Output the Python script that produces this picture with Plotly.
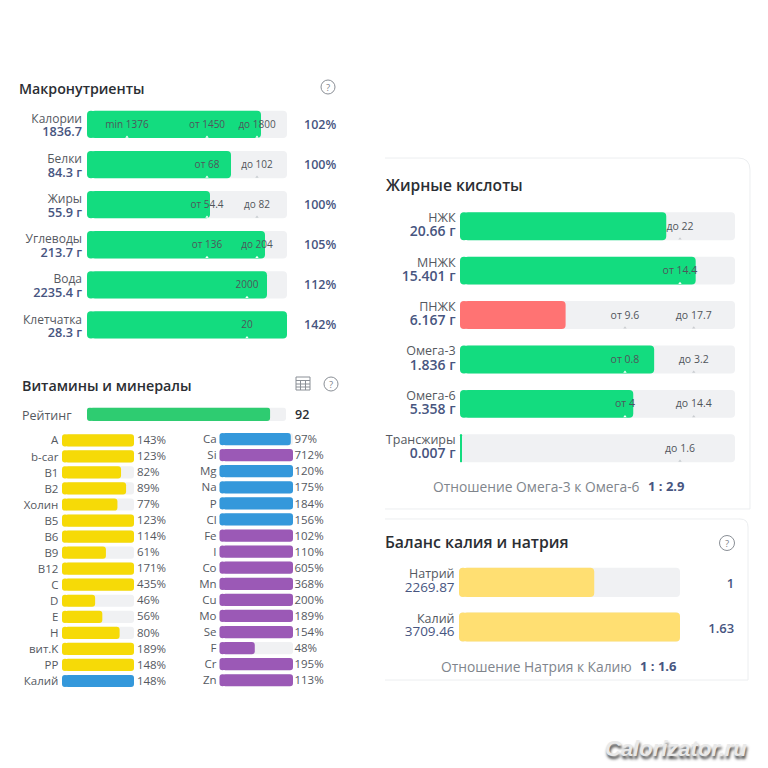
import plotly.graph_objects as go

FONT = "Open Sans"
GREEN = "#13dc7f"; YELLOW = "#f6da07"; BLUE = "#3498db"; PURPLE = "#9b59b6"
RED = "#ff7373"; SOFT = "#ffdf72"; TRACK = "#f0f1f3"
GREY = "#55595f"; NAVY = "#47557f"; DARK = "#2b2e33"

# ---------- data ----------
macro_names = ["Калории", "Белки", "Жиры", "Углеводы", "Вода", "Клетчатка"]
macro_values = ["1836.7", "84.3 г", "55.9 г", "213.7 г", "2235.4 г", "28.3 г"]
macro_fill = [87, 72, 61.5, 89, 90, 100]
macro_pct = ["102%", "100%", "100%", "105%", "112%", "142%"]
macro_marks = [[("min 1376", 20), ("от 1450", 60), ("до 1800", 85)],
               [("от 68", 60), ("до 102", 85)],
               [("от 54.4", 60), ("до 82", 85)],
               [("от 136", 60), ("до 204", 85)],
               [("2000", 80)],
               [("20", 80)]]

rating_label = "Рейтинг"
rating_value = 92

vit_names = ["A", "b-car", "B1", "B2", "Холин", "B5", "B6", "B9", "B12", "C", "D", "E", "H", "вит.K", "PP", "Калий"]
vit_pct = [143, 123, 82, 89, 77, 123, 114, 61, 171, 435, 46, 56, 80, 189, 148, 148]
vit_group = ["v"] * 15 + ["m"]

min_names = ["Ca", "Si", "Mg", "Na", "P", "Cl", "Fe", "I", "Co", "Mn", "Cu", "Mo", "Se", "F", "Cr", "Zn"]
min_pct = [97, 712, 120, 175, 184, 156, 102, 110, 605, 368, 200, 189, 154, 48, 195, 113]
min_group = ["b", "p", "b", "b", "b", "b", "p", "p", "p", "p", "p", "p", "p", "p", "p", "p"]

fat_names = ["НЖК", "МНЖК", "ПНЖК", "Омега-3", "Омега-6", "Трансжиры"]
fat_values = ["20.66 г", "15.401 г", "6.167 г", "1.836 г", "5.358 г", "0.007 г"]
fat_fill = [75, 85.7, 38.4, 70.6, 63, 0.4]
fat_ok = [True, True, False, True, True, True]
fat_marks = [[("до 22", 80)], [("от 14.4", 80)], [("от 9.6", 60), ("до 17.7", 85)],
             [("от 0.8", 60), ("до 3.2", 85)], [("от 4", 60), ("до 14.4", 85)], [("до 1.6", 80)]]

bal_names = ["Натрий", "Калий"]
bal_values = [2269.87, 3709.46]
bal_ratio = ["1", "1.63"]

# ---------- helpers ----------
def X(p): return p / 768
def Y(p): return 1 - p / 768

fig = go.Figure()
layout_axes = {}
annots = []
shapes = []
axis_n = [0]
scale = {}
PAD = 60

def new_axes(x0, x1, y0, y1, rows, xmax=100):
    axis_n[0] += 1
    n = axis_n[0]
    s = "" if n == 1 else str(n)
    pxu = (x1 - x0) / xmax
    dl = x0 - max(x0 - PAD, 0)
    dr = min(x1 + PAD, 768) - x1
    common = dict(showgrid=False, zeroline=False, showticklabels=False, ticks="", showline=False, fixedrange=True)
    layout_axes["xaxis" + s] = dict(domain=[X(x0 - dl), X(x1 + dr)], range=[-dl / pxu, xmax + dr / pxu],
                                    anchor="y" + s, **common)
    layout_axes["yaxis" + s] = dict(domain=[Y(y1), Y(y0)], range=[rows - 0.5, -0.5], anchor="x" + s, **common)
    scale["x" + s] = pxu
    return "x" + s, "y" + s

def rounded(xa, ya, vals, colors, width, radius):
    # each bar is a left cap (drawn backwards, so its far end is rounded) plus the body
    n = len(vals)
    cap = 2 * radius / scale[xa]
    caps = [min(cap, v) for v in vals]
    common = dict(y=list(range(n)), orientation="h", width=width, xaxis=xa, yaxis=ya, hoverinfo="skip",
                  marker=dict(color=colors, cornerradius=radius, line_width=0))
    fig.add_trace(go.Bar(x=[-c for c in caps], base=caps, **common))
    fig.add_trace(go.Bar(x=[v - c / 2 for v, c in zip(vals, caps)], base=[c / 2 for c in caps], **common))

def bars(xa, ya, vals, colors, width, radius, xmax=100):
    rounded(xa, ya, [xmax] * len(vals), TRACK, width, radius)
    rounded(xa, ya, vals, colors, width, radius)

def texts(xa, ya, xs, ys, labels, size, color, pos="middle left", weight=400):
    fig.add_trace(go.Scatter(x=xs, y=ys, text=labels, mode="text", textposition=pos, xaxis=xa, yaxis=ya,
                             cliponaxis=False, hoverinfo="skip",
                             textfont=dict(family=FONT, size=size, color=color, weight=weight)))

def marks(xa, ya, table, fills, width, size=10):
    xs, ys, labels, nx, ny, nc = [], [], [], [], [], []
    for r, row in enumerate(table):
        for lab, pos in row:
            xs.append(pos); ys.append(r + 0.02); labels.append(lab)
            nx.append(pos); ny.append(r + width / 2 - 0.03)
            nc.append("#ffffff" if pos < fills[r] else "#c9ccd0")
    fig.add_trace(go.Scatter(x=nx, y=ny, mode="markers", xaxis=xa, yaxis=ya, cliponaxis=False, hoverinfo="skip",
                             marker=dict(symbol="triangle-up", size=3, color=nc, line_width=0)))
    texts(xa, ya, xs, ys, labels, size, "#50555b", pos="middle center")

def note(x, y, text, size, color, anchor="left", weight=400, **kw):
    shift = -2 if anchor == "left" else 0
    annots.append(dict(x=X(x + shift), y=Y(y), xref="paper", yref="paper", text=text, showarrow=False, xanchor=anchor,
                       yanchor="middle", font=dict(family=FONT, size=size, color=color, weight=weight), **kw))

def help_icon(x, y, r):
    shapes.append(dict(type="circle", xref="paper", yref="paper", x0=X(x - r), x1=X(x + r), y0=Y(y + r), y1=Y(y - r),
                       line=dict(color="#8a8f96", width=1)))
    note(x, y, "?", 9.5, "#7d8289", anchor="center")

def ink(path, color, width=1):
    shapes.append(dict(type="path", xref="paper", yref="paper", path=path, line=dict(color=color, width=width)))

def P(*pts):
    out = []
    for cmd, x, y in pts:
        out.append(f"{cmd} {X(x):.5f} {Y(y):.5f}")
    return " ".join(out)

# ---------- macronutrients ----------
xa, ya = new_axes(87, 287, 104.4, 345, 6)
bars(xa, ya, macro_fill, GREEN, 0.68, 4)
marks(xa, ya, macro_marks, macro_fill, 0.68)
rows = list(range(6))
texts(xa, ya, [-2.5] * 6, [r - 0.11 for r in rows], macro_names, 12, GREY)
texts(xa, ya, [-2.5] * 6, [r + 0.22 for r in rows], macro_values, 12.7, NAVY, weight=600)
texts(xa, ya, [108.5] * 6, [r + 0.03 for r in rows], macro_pct, 12.5, NAVY, pos="middle right", weight=600)
note(19, 89, "Макронутриенты", 14.2, DARK, weight=600)
help_icon(328, 87, 7)

# ---------- rating ----------
xa, ya = new_axes(87, 286, 407.5, 421, 1)
bars(xa, ya, [rating_value], "#2ecc71", 1, 3)
note(22, 415, rating_label, 12.5, GREY, weight=500)
note(295, 414, str(rating_value), 12.5, DARK, weight=600)

# ---------- vitamins ----------
color_map = {"v": YELLOW, "m": BLUE, "b": BLUE, "p": PURPLE}
rows = list(range(16))
xa, ya = new_axes(62, 134, 432.3, 689, 16)
bars(xa, ya, [min(v, 100) for v in vit_pct], [color_map[g] for g in vit_group], 0.76, 3)
texts(xa, ya, [-5] * 16, [r + 0.08 for r in rows], vit_names, 11.5, GREY)
texts(xa, ya, [104] * 16, [r + 0.05 for r in rows], [f"{v}%" for v in vit_pct], 11.5, GREY, pos="middle right")

xa, ya = new_axes(219.5, 293, 431, 688.3, 16)
bars(xa, ya, [min(v, 100) for v in min_pct], [color_map[g] for g in min_group], 0.76, 3)
texts(xa, ya, [-4] * 16, [r + 0.08 for r in rows], min_names, 11.5, GREY)
texts(xa, ya, [102] * 16, [r + 0.08 for r in rows], [f"{v}%" for v in min_pct], 11.5, GREY, pos="middle right")
note(22, 385, "Витамины и минералы", 14.3, DARK, weight=600)
help_icon(331, 384, 7)

# table icon
ic = "#8a8f96"
shapes.append(dict(type="rect", xref="paper", yref="paper", x0=X(296), x1=X(310), y0=Y(390), y1=Y(377),
                   line=dict(color=ic, width=1)))
for yy in (380.5, 384, 387):
    ink(P(("M", 296, yy), ("L", 310, yy)), ic)
for xx in (300.5, 305.5):
    ink(P(("M", xx, 380.5), ("L", xx, 390)), ic)

# ---------- cards ----------
card = "#eceef0"
ink(P(("M", 385, 158), ("L", 738, 158), ("Q", 750, 158), ("", 750, 170), ("L", 750, 509), ("L", 385, 509)), card)
ink(P(("M", 385, 519), ("L", 740, 519), ("Q", 748, 519), ("", 748, 527), ("L", 748, 680), ("L", 385, 680)), card)

# ---------- fatty acids ----------
xa, ya = new_axes(460, 735, 204, 470.5, 6)
fat_colors = [GREEN if ok else RED for ok in fat_ok]
bars(xa, ya, fat_fill, fat_colors, 0.63, 4)
marks(xa, ya, fat_marks, fat_fill, 0.63, size=10.5)
rows = list(range(6))
texts(xa, ya, [-1.6] * 6, [r - 0.16 for r in rows], fat_names, 12.5, GREY)
texts(xa, ya, [-1.6] * 6, [r + 0.15 for r in rows], fat_values, 14, NAVY, weight=600)
note(386, 185, "Жирные кислоты", 15.6, DARK, weight=600)
note(433, 486, "Отношение Омега-3 к Омега-6", 13.8, "#80858c")
note(648, 486, "1 : 2.9", 13, NAVY, weight=700)

# ---------- potassium / sodium ----------
xa, ya = new_axes(459, 680, 560, 649.4, 2, xmax=bal_values[1])
bars(xa, ya, bal_values, SOFT, 0.65, 4, xmax=bal_values[1])
rows = [0, 1]
texts(xa, ya, [bal_values[1] * -0.02] * 2, [r - 0.16 for r in rows], bal_names, 12.5, GREY)
texts(xa, ya, [bal_values[1] * -0.02] * 2, [r + 0.13 for r in rows], [f"{v:.2f}" for v in bal_values], 13.5, NAVY, weight=500)
texts(xa, ya, [bal_values[1] * 1.245] * 2, [r + 0.05 for r in rows], bal_ratio, 13, NAVY, pos="middle left", weight=600)
note(385, 542, "Баланс калия и натрия", 15.8, DARK, weight=600)
help_icon(727, 543, 7.5)
note(441, 666, "Отношение Натрия к Калию", 13.8, "#80858c")
note(640, 666, "1 : 1.6", 13, NAVY, weight=700)

# ---------- watermark ----------
annots.append(dict(x=X(676), y=Y(748), xref="paper", yref="paper", text="<b><i>Calorizator.ru</i></b>", showarrow=False,
                   xanchor="center", yanchor="middle",
                   font=dict(family="Liberation Sans", size=22, color="#e9e9e9", shadow="1px 3px 3px #444444")))

fig.update_layout(width=768, height=768, margin=dict(l=0, r=0, t=0, b=0), autosize=False,
                  paper_bgcolor="white", plot_bgcolor="rgba(0,0,0,0)", showlegend=False, barmode="overlay",
                  annotations=annots, shapes=shapes, **layout_axes)

fig.write_html("out.html", config={"displayModeBar": False},
               post_script="document.body.style.margin='0';document.documentElement.style.overflow='hidden';")
